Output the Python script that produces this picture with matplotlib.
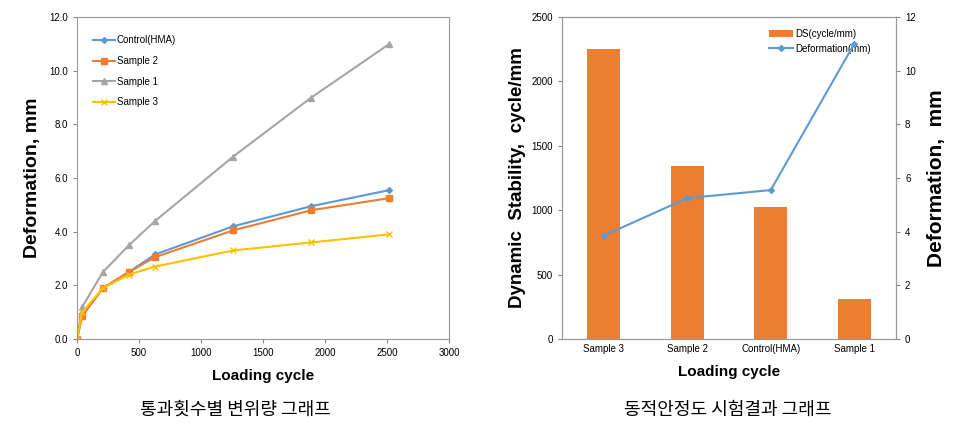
import numpy as np
import matplotlib.pyplot as plt

plt.rcParams['font.family'] = ['Liberation Sans Narrow', 'Liberation Sans', 'DejaVu Sans']

# left chart: deformation vs loading cycle
cycles = [0, 42, 210, 420, 630, 1260, 1890, 2520]
control = [0, 0.9, 1.9, 2.5, 3.15, 4.2, 4.95, 5.55]
sample2 = [0, 0.85, 1.9, 2.5, 3.05, 4.05, 4.8, 5.25]
sample1 = [0, 1.2, 2.5, 3.5, 4.4, 6.8, 9.0, 11.0]
sample3 = [0, 1.0, 1.9, 2.4, 2.7, 3.3, 3.6, 3.9]

# right chart: dynamic stability + final deformation
samples = ['Sample 3', 'Sample 2', 'Control(HMA)', 'Sample 1']
ds = [2250, 1340, 1025, 310]
deform = [3.85, 5.25, 5.55, 11.0]

blue = '#5B9BD5'
orange = '#ED7D31'
gray = '#A5A5A5'
yellow = '#FFC000'
bold_font = ['Liberation Sans', 'DejaVu Sans']

fig = plt.figure(figsize=(9.76, 4.37), dpi=100)
W, H = 976, 437

def box(x0, y0, x1, y1):
    return [x0 / W, 1 - y1 / H, (x1 - x0) / W, (y1 - y0) / H]

ax1 = fig.add_axes(box(77, 17, 449, 339))
ax1.plot(cycles, control, color=blue, marker='D', ms=3, lw=1.5, label='Control(HMA)')
ax1.plot(cycles, sample2, color=orange, marker='s', ms=4, lw=1.5, label='Sample 2')
ax1.plot(cycles, sample1, color=gray, marker='^', ms=4, lw=1.5, label='Sample 1')
ax1.plot(cycles, sample3, color=yellow, marker='x', ms=4, lw=1.5, label='Sample 3')
ax1.set_xlim(0, 3000)
ax1.set_ylim(0, 12)
ax1.set_xticks(np.arange(0, 3001, 500))
ax1.set_yticks(np.arange(0, 12.1, 2))
ax1.set_yticklabels(['%.1f' % v for v in np.arange(0, 12.1, 2)])
ax1.tick_params(labelsize=7, length=3, color='#888888')
for s in ax1.spines.values():
    s.set_color('#999999')
ax1.set_xlabel('Loading cycle', fontsize=11, fontweight='bold', family=bold_font, labelpad=8)
ax1.set_ylabel('Deformation, mm', fontsize=14, fontweight='bold', family=bold_font, labelpad=6)
ax1.legend(loc='upper left', bbox_to_anchor=(0.02, 0.97), frameon=False, fontsize=7,
           handlelength=2.2, handletextpad=0.2, labelspacing=1.1)

ax2 = fig.add_axes(box(562, 17, 896, 339))
xpos = np.arange(len(samples))
ax2.bar(xpos, ds, width=0.4, color=orange, label='DS(cycle/mm)')
ax2.set_xlim(-0.5, len(samples) - 0.5)
ax2.set_ylim(0, 2500)
ax2.set_yticks(np.arange(0, 2501, 500))
ax2.set_xticks(xpos)
ax2.set_xticklabels(samples)
ax2.tick_params(labelsize=7, length=3, color='#888888')
ax2.tick_params(axis='x', length=0)
ax2.set_xlabel('Loading cycle', fontsize=11, fontweight='bold', family=bold_font, labelpad=8)
ax2.set_ylabel('Dynamic  Stability,  cycle/mm', fontsize=13.5, fontweight='bold', family=bold_font, labelpad=4)
ax3 = ax2.twinx()
ax3.plot(xpos, deform, color=blue, marker='D', ms=3, lw=1.5, label='Deformation(mm)')
ax3.set_ylim(0, 12)
ax3.set_yticks(np.arange(0, 12.1, 2))
ax3.tick_params(labelsize=7, length=3, color='#888888')
ax3.set_ylabel('Deformation,  mm', fontsize=15, fontweight='bold', family=bold_font, labelpad=8)
for a in (ax2, ax3):
    for s in a.spines.values():
        s.set_color('#999999')
h1, l1 = ax2.get_legend_handles_labels()
h2, l2 = ax3.get_legend_handles_labels()
ax2.legend(h1 + h2, l1 + l2, loc='upper right', bbox_to_anchor=(0.95, 0.99), frameon=False,
           fontsize=7, handlelength=2.5, handletextpad=0.2)

fig.text(235 / W, 1 - 410 / H, '통과횟수별 변위량 그래프', ha='center', va='center', fontsize=13,
         family=['Noto Sans CJK KR', 'DejaVu Sans'])
fig.text(728 / W, 1 - 410 / H, '동적안정도 시험결과 그래프', ha='center', va='center', fontsize=13,
         family=['Noto Sans CJK KR', 'DejaVu Sans'])

fig.savefig('out.png', dpi=100)
